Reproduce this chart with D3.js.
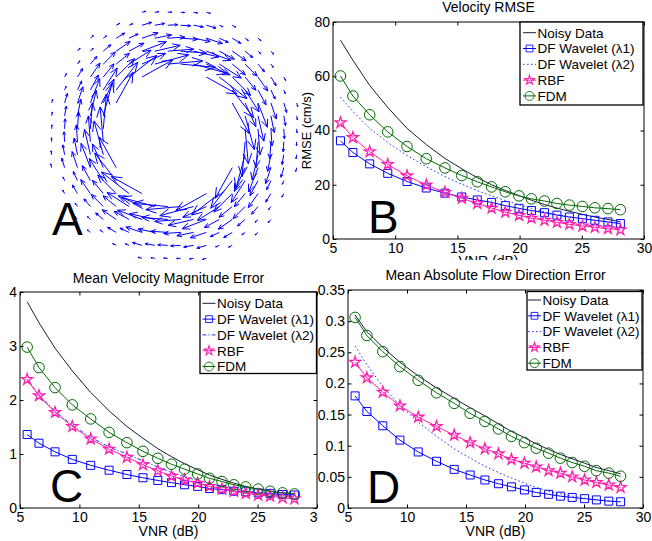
<!DOCTYPE html>
<html>
<head>
<meta charset="utf-8">
<script src="https://cdn.jsdelivr.net/npm/d3@7"></script>
<style>
  body { margin: 0; background: #fff; }
  svg { display: block; font-family: "Liberation Sans", Arial, sans-serif; }
</style>
</head>
<body>
<div id="chart"></div>
<script>

//////////////////////////////////////////////////
/////////////////// Data /////////////////////////
//////////////////////////////////////////////////

const width = 652;
const height = 541;

const vnr = [5.6, 6.6, 7.95, 9.4, 10.95, 12.5, 14.0, 15.35, 16.6, 17.75, 18.85, 19.95, 20.95, 22.0, 23.0, 24.0, 25.05, 26.05, 27.1, 28.1];
const seriesNames = ["Noisy Data", "DF Wavelet (\u03bb1)", "DF Wavelet (\u03bb2)", "RBF", "FDM"];

// B - Velocity RMSE (cm/s)
const rmseNoisy = [73.3, 65.9, 56.6, 48.5, 40.8, 34.8, 29.7, 25.9, 22.6, 20.0, 17.9, 16.0, 14.3, 12.7, 11.4, 10.2, 9.1, 8.1, 7.2, 6.4];
const rmseWav1  = [36.2, 31.9, 27.7, 24.2, 21.2, 18.8, 16.9, 15.5, 14.4, 13.5, 12.3, 11.3, 10.5, 9.7, 8.8, 8.1, 7.5, 6.9, 6.3, 5.7];
const rmseWav2  = [52.3, 47.0, 40.8, 35.6, 30.8, 26.6, 23.0, 20.2, 17.8, 15.9, 14.2, 12.6, 11.3, 10.0, 9.0, 8.2, 7.5, 6.9, 6.3, 5.7];
const rmseRbf   = [42.9, 37.4, 32.2, 27.5, 23.3, 19.9, 17.2, 15.0, 13.1, 11.4, 9.9, 8.7, 7.7, 6.9, 6.1, 5.4, 4.8, 4.3, 3.8, 3.4];
const rmseFdm   = [60.1, 52.7, 45.8, 39.5, 34.1, 29.6, 26.2, 23.4, 21.1, 19.2, 17.4, 15.9, 14.8, 14.0, 13.1, 12.5, 12.0, 11.5, 11.2, 10.8];

// C - Mean Velocity Magnitude Error
const mvmNoisy = [3.82, 3.43, 2.96, 2.54, 2.14, 1.80, 1.51, 1.29, 1.10, 0.95, 0.82, 0.71, 0.61, 0.53, 0.46, 0.40, 0.35, 0.31, 0.28, 0.26];
const mvmWav1  = [1.36, 1.20, 1.04, 0.90, 0.79, 0.70, 0.62, 0.56, 0.51, 0.47, 0.43, 0.40, 0.36, 0.34, 0.31, 0.30, 0.28, 0.27, 0.25, 0.24];
const mvmWav2  = [2.38, 2.09, 1.79, 1.53, 1.31, 1.13, 1.00, 0.87, 0.76, 0.66, 0.58, 0.51, 0.45, 0.40, 0.35, 0.31, 0.27, 0.24, 0.22, 0.20];
const mvmRbf   = [2.38, 2.08, 1.77, 1.51, 1.28, 1.09, 0.94, 0.80, 0.69, 0.59, 0.52, 0.46, 0.40, 0.35, 0.31, 0.27, 0.24, 0.22, 0.19, 0.17];
const mvmFdm   = [2.98, 2.60, 2.23, 1.91, 1.65, 1.40, 1.21, 1.05, 0.92, 0.81, 0.72, 0.63, 0.55, 0.49, 0.43, 0.39, 0.35, 0.31, 0.28, 0.26];

// D - Mean Absolute Flow Direction Error
const mafdNoisy = [0.310, 0.283, 0.258, 0.234, 0.212, 0.193, 0.176, 0.161, 0.148, 0.135, 0.123, 0.113, 0.103, 0.094, 0.086, 0.079, 0.072, 0.065, 0.060, 0.055];
const mafdWav1  = [0.180, 0.155, 0.132, 0.109, 0.090, 0.075, 0.062, 0.053, 0.045, 0.039, 0.034, 0.029, 0.025, 0.022, 0.019, 0.017, 0.015, 0.013, 0.011, 0.010];
const mafdWav2  = [0.260, 0.230, 0.195, 0.165, 0.138, 0.115, 0.095, 0.080, 0.067, 0.057, 0.048, 0.040, 0.033, 0.027, 0.023, 0.019, 0.016, 0.014, 0.012, 0.010];
const mafdRbf   = [0.234, 0.209, 0.186, 0.164, 0.146, 0.131, 0.117, 0.105, 0.095, 0.087, 0.078, 0.072, 0.066, 0.060, 0.056, 0.050, 0.045, 0.041, 0.037, 0.033];
const mafdFdm   = [0.306, 0.277, 0.251, 0.227, 0.205, 0.185, 0.168, 0.152, 0.139, 0.127, 0.115, 0.105, 0.096, 0.088, 0.080, 0.073, 0.067, 0.060, 0.056, 0.051];

const xTicks = [5, 10, 15, 20, 25, 30];
const rmseTicks = [0, 20, 40, 60, 80];
const mvmTicks = [0, 1, 2, 3, 4];
const mafdTicks = [0, 0.05, 0.1, 0.15, 0.2, 0.25, 0.3, 0.35];

// A - vortex field: arrow length (px) by whole grid-steps of radius from the centre
const gridCount = 20;
const arrowLength = [0, 0, 0, 0, 0, 35, 26, 17, 10, 4];

//////////////////////////////////////////////////
/////////////////// Styles ///////////////////////
//////////////////////////////////////////////////

const styles = [
  {color: "#1c1c3c", dash: null, marker: null},
  {color: "#0000ff", dash: null, marker: "square"},
  {color: "#2233ff", dash: "1.6,2.4", marker: null},
  {color: "#ff1fae", dash: null, marker: "star"},
  {color: "#006a00", dash: null, marker: "circle"}
];
const fontSize = 14;
const legendFont = 13.5;

const svg = d3.select("#chart")
  .append("svg")
    .attr("width", width)
    .attr("height", height);

svg.append("rect").attr("width", width).attr("height", height).attr("fill", "#fff");

const markerPath = type => {
  if (type === "square") return d3.symbol(d3.symbolSquare, 64)();
  if (type === "star") return d3.symbol(d3.symbolStar, 38)();
  if (type === "circle") return d3.symbol(d3.symbolCircle, 88)();
  return null;
};

//////////////////////////////////////////////////
/////////////////// Panel A //////////////////////
//////////////////////////////////////////////////

const gxScale = d3.scaleLinear().domain([0, gridCount - 1]).range([51.7, 296.7]);
const gyScale = d3.scaleLinear().domain([0, gridCount - 1]).range([12.3, 258.3]);
const mid = (gridCount - 1) / 2;

const arrows = [];
d3.range(gridCount).forEach(i => {
  d3.range(gridCount).forEach(j => {
    const dx = i - mid, dy = j - mid;
    const r = Math.hypot(dx, dy);
    if (r > 10) return;
    const len = arrowLength[Math.floor(r)];
    if (!len) return;
    // clockwise on screen
    arrows.push({x: gxScale(i), y: gyScale(j), ux: -dy / r, uy: dx / r, len});
  });
});

const arrowPath = d => {
  const x1 = d.x + d.ux * d.len, y1 = d.y + d.uy * d.len;
  const h = Math.max(1.5, d.len * 0.32);
  const a = Math.atan2(d.uy, d.ux);
  const p = d3.path();
  p.moveTo(d.x, d.y); p.lineTo(x1, y1);
  [0.4, -0.4].forEach(t => {
    p.moveTo(x1, y1);
    p.lineTo(x1 - h * Math.cos(a + t), y1 - h * Math.sin(a + t));
  });
  return p.toString();
};

const gA = svg.append("g").attr("class", "panel-a");
gA.selectAll("path")
  .data(arrows)
  .join("path")
    .attr("d", arrowPath)
    .attr("fill", "none")
    .attr("stroke", "#0000ff")
    .attr("stroke-width", 1);

gA.append("text")
  .attr("x", 52).attr("y", 235)
  .attr("font-size", 46)
  .text("A");

//////////////////////////////////////////////////
/////////////////// Plot panels //////////////////
//////////////////////////////////////////////////

function drawPanel(o) {
  const g = svg.append("g");
  if (o.bg) {
    g.append("rect")
      .attr("x", o.bg[0]).attr("y", o.bg[1])
      .attr("width", o.bg[2]).attr("height", o.bg[3])
      .attr("fill", "#fff");
  }
  const x = d3.scaleLinear().domain([5, 30]).range([o.x0, o.x1]);
  const y = d3.scaleLinear().domain(o.yDomain).range([o.y1, o.y0]);
  const dashOf = k => (k === 2 && o.dash2) ? o.dash2 : styles[k].dash;

  // axes (ticks inside, box on)
  g.append("g").attr("transform", `translate(0,${o.y1})`)
    .call(d3.axisBottom(x).tickValues(xTicks).tickSize(-3.5).tickPadding(4).tickFormat(d3.format("d")))
    .call(a => a.select(".domain").remove());
  g.append("g").attr("transform", `translate(0,${o.y0})`)
    .call(d3.axisTop(x).tickValues(xTicks).tickSize(-3.5).tickFormat(""))
    .call(a => a.select(".domain").remove());
  g.append("g").attr("transform", `translate(${o.x0},0)`)
    .call(d3.axisLeft(y).tickValues(o.yTicks).tickSize(-3.5).tickPadding(3).tickFormat(o.yFormat))
    .call(a => a.select(".domain").remove());
  g.append("g").attr("transform", `translate(${o.x1},0)`)
    .call(d3.axisRight(y).tickValues(o.yTicks).tickSize(-3.5).tickFormat(""))
    .call(a => a.select(".domain").remove());
  g.selectAll(".tick text")
    .attr("font-size", fontSize)
    .attr("font-family", "\"Liberation Sans\", Arial, sans-serif")
    .attr("fill", "#000");
  g.selectAll(".tick line").attr("stroke", "#000");

  g.append("rect")
    .attr("x", o.x0).attr("y", o.y0)
    .attr("width", o.x1 - o.x0).attr("height", o.y1 - o.y0)
    .attr("fill", "none").attr("stroke", "#000").attr("stroke-width", 1);

  // title and labels
  g.append("text")
    .attr("x", (o.x0 + o.x1) / 2).attr("y", o.titleY)
    .attr("text-anchor", "middle").attr("font-size", fontSize)
    .text(o.title);
  g.append("text")
    .attr("x", (o.x0 + o.x1) / 2).attr("y", o.xlabelY)
    .attr("text-anchor", "middle").attr("font-size", fontSize)
    .text("VNR (dB)");
  if (o.ylabel) {
    g.append("text")
      .attr("transform", `translate(${o.ylabelX},${(o.y0 + o.y1) / 2})rotate(-90)`)
      .attr("text-anchor", "middle").attr("font-size", 13)
      .text(o.ylabel);
  }

  // series
  const line = d3.line((d, i) => x(vnr[i]), d => y(d));
  o.series.forEach((values, k) => {
    const s = styles[k];
    g.append("path")
      .datum(values)
      .attr("d", line)
      .attr("fill", "none")
      .attr("stroke", s.color)
      .attr("stroke-width", 1)
      .attr("stroke-dasharray", dashOf(k));
    if (s.marker) {
      g.selectAll(null)
        .data(values)
        .join("path")
          .attr("transform", (d, i) => `translate(${x(vnr[i])},${y(d)})`)
          .attr("d", markerPath(s.marker))
          .attr("fill", "none")
          .attr("stroke", s.color)
          .attr("stroke-width", s.marker === "star" ? 1.3 : 1);
    }
  });

  // big letter
  g.append("text")
    .attr("x", o.letter[1]).attr("y", o.letter[2])
    .attr("font-size", 46)
    .text(o.letter[0]);

  // legend
  const L = o.legend;
  g.append("rect")
    .attr("x", L.x0).attr("y", L.y0)
    .attr("width", L.x1 - L.x0).attr("height", L.y1 - L.y0)
    .attr("fill", "#fff").attr("stroke", "#000").attr("stroke-width", 1.3);
  seriesNames.forEach((name, k) => {
    const s = styles[k];
    const cy = L.row0 + k * 15.8;
    g.append("line")
      .attr("x1", L.sx).attr("x2", L.sx + 13)
      .attr("y1", cy).attr("y2", cy)
      .attr("stroke", s.color).attr("stroke-width", 1)
      .attr("stroke-dasharray", dashOf(k));
    if (s.marker) {
      g.append("path")
        .attr("transform", `translate(${L.sx + 6.5},${cy})scale(0.85)`)
        .attr("d", markerPath(s.marker))
        .attr("fill", "none").attr("stroke", s.color)
        .attr("stroke-width", s.marker === "star" ? 1.3 : 1);
    }
    g.append("text")
      .attr("x", L.sx + 14.5).attr("y", cy).attr("dy", "0.36em")
      .attr("font-size", legendFont)
      .text(name);
  });
}

drawPanel({
  x0: 333, x1: 644, y0: 22, y1: 239,
  yDomain: [0, 80], yTicks: rmseTicks, yFormat: d3.format("d"),
  title: "Velocity RMSE", titleY: 12, xlabelY: 266,
  ylabel: "RMSE (cm/s)", ylabelX: 311,
  series: [rmseNoisy, rmseWav1, rmseWav2, rmseRbf, rmseFdm],
  letter: ["B", 368, 233],
  legend: {x0: 520, x1: 643, y0: 22, y1: 105, row0: 32.7, sx: 523}
});

drawPanel({
  x0: 20, x1: 317, y0: 292, y1: 508,
  yDomain: [0, 4], yTicks: mvmTicks, yFormat: d3.format("d"),
  title: "Mean Velocity Magnitude Error", titleY: 283, xlabelY: 536,
  series: [mvmNoisy, mvmWav1, mvmWav2, mvmRbf, mvmFdm],
  dash2: "4,2,1.2,2",
  letter: ["C", 50, 502],
  legend: {x0: 200, x1: 316.5, y0: 292, y1: 373.5, row0: 303.3, sx: 202.5}
});

drawPanel({
  bg: [318, 260, 334, 281],
  x0: 348, x1: 643, y0: 290, y1: 508,
  yDomain: [0, 0.35], yTicks: mafdTicks, yFormat: d => d === 0 ? "0" : d3.format("")(+d.toFixed(2)),
  title: "Mean Absolute Flow Direction Error", titleY: 280, xlabelY: 536,
  series: [mafdNoisy, mafdWav1, mafdWav2, mafdRbf, mafdFdm],
  letter: ["D", 367, 503],
  legend: {x0: 527, x1: 642, y0: 291.5, y1: 370, row0: 300, sx: 528}
});

</script>
</body>
</html>
